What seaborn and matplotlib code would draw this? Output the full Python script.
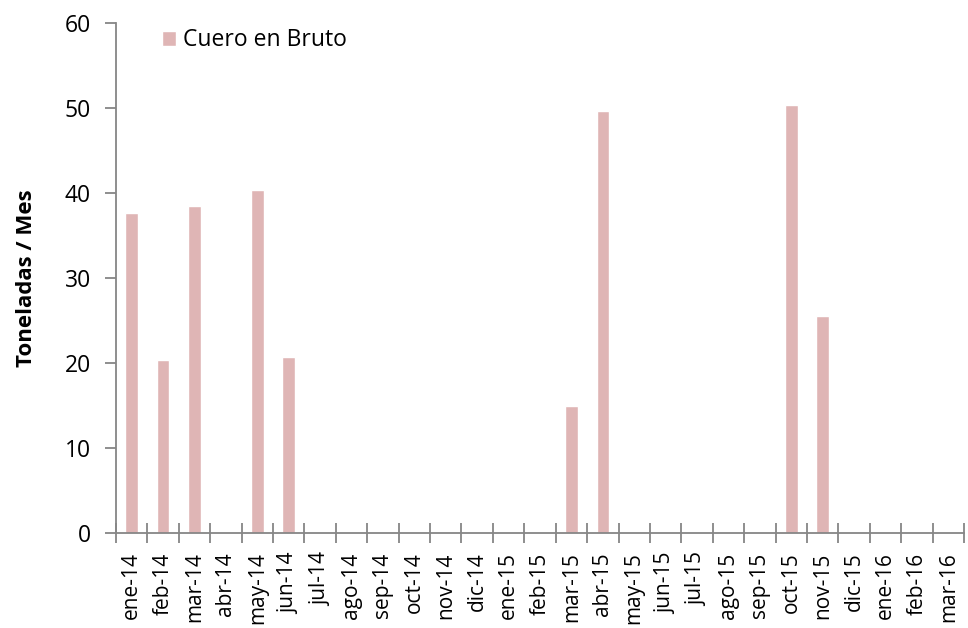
import matplotlib
matplotlib.use('Agg')
import matplotlib.pyplot as plt
import numpy as np
import pandas as pd
import seaborn as sns

# Datos
meses = ['ene-14', 'feb-14', 'mar-14', 'abr-14', 'may-14', 'jun-14', 'jul-14',
         'ago-14', 'sep-14', 'oct-14', 'nov-14', 'dic-14', 'ene-15', 'feb-15',
         'mar-15', 'abr-15', 'may-15', 'jun-15', 'jul-15', 'ago-15', 'sep-15',
         'oct-15', 'nov-15', 'dic-15', 'ene-16', 'feb-16', 'mar-16']
toneladas = [37.7, 20.3, 38.5, 0, 40.4, 20.7, 0,
             0, 0, 0, 0, 0, 0, 0,
             14.9, 49.6, 0, 0, 0, 0, 0,
             50.3, 25.5, 0, 0, 0, 0]
serie = 'Cuero en Bruto'

df = pd.DataFrame({'mes': meses, 'valor': toneladas})

sns.set_style('white')
plt.rcParams['font.family'] = ['Open Sans', 'DejaVu Sans']
plt.rcParams['text.color'] = 'black'
plt.rcParams['axes.labelcolor'] = 'black'
plt.rcParams['xtick.color'] = 'black'
plt.rcParams['ytick.color'] = 'black'

fig = plt.figure(figsize=(9.68, 6.28), dpi=100)
ax = fig.add_axes([116 / 968, 1 - 533 / 628, 848 / 968, 510 / 628])

sns.barplot(data=df, x='mes', y='valor', color='#DFB5B5', width=0.4,
            saturation=1, label=serie, ax=ax)

gris = '#868686'
ax.set_ylim(0, 60)
ax.set_xlim(-0.5, len(meses) - 0.5)
ax.set_yticks(range(0, 61, 10))
for lado in ['top', 'right']:
    ax.spines[lado].set_visible(False)
for lado in ['left', 'bottom']:
    ax.spines[lado].set_color(gris)
    ax.spines[lado].set_linewidth(1.3)

# Marcas del eje x entre categorías (cruzan el eje)
ax.set_xticks(np.arange(len(meses) + 1) - 0.5, minor=True)
ax.tick_params(axis='x', which='major', bottom=False, length=0, labelsize=15,
               rotation=90, pad=14)
ax.tick_params(axis='x', which='minor', bottom=True, direction='inout', length=14,
               color=gris, width=1.3)
ax.tick_params(axis='y', left=True, direction='out', length=8, color=gris,
               width=1.3, labelsize=16.5, pad=10)
ax.set_xlabel('')
ax.set_ylabel('Toneladas / Mes', fontsize=16, fontweight='bold', labelpad=20)

ax.legend(loc='upper left', bbox_to_anchor=(0.03, 1.03), frameon=False,
          fontsize=16.5, handlelength=0.6, handleheight=0.6, handletextpad=0.3)

fig.savefig('out.png', dpi=100)
